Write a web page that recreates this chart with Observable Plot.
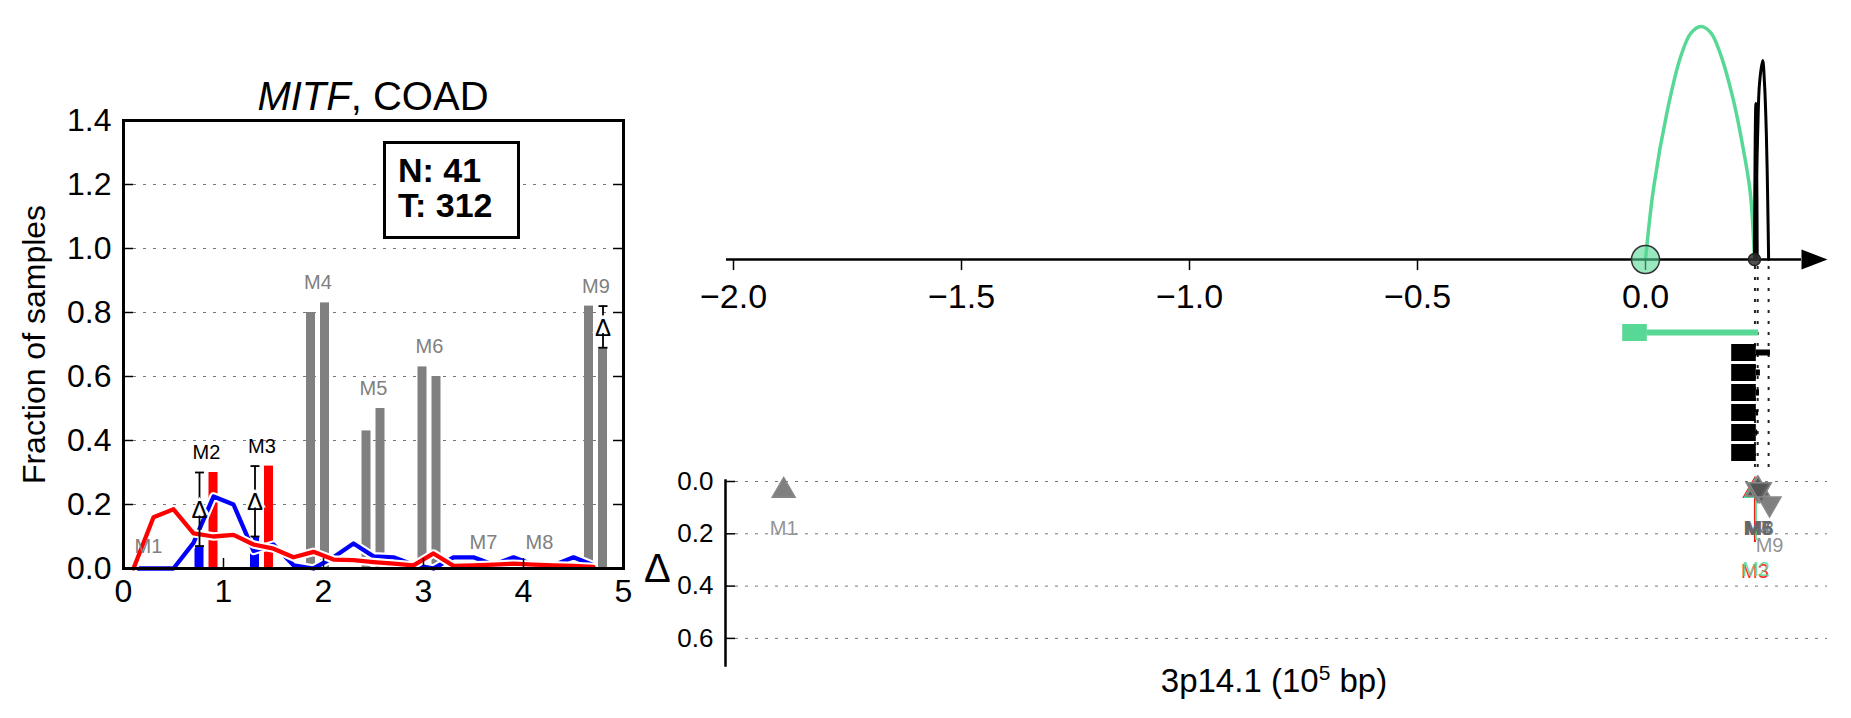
<!DOCTYPE html>
<html>
<head>
<meta charset="utf-8">
<script src="https://cdn.jsdelivr.net/npm/d3@7"></script>
<script src="https://cdn.jsdelivr.net/npm/@observablehq/plot@0.6"></script>
<style>
  body { margin: 0; background: #fff; font-family: "Liberation Sans", Arial, Helvetica, sans-serif; }
  #root { position: relative; width: 1851px; height: 718px; overflow: hidden; background: #fff; }
  .abs { position: absolute; }
  .abs svg { overflow: visible; }
</style>
</head>
<body>
<div id="root"></div>
<script>
// ---------------- Left panel data ----------------
const binCenters = [0.1,0.3,0.5,0.7,0.9,1.1,1.3,1.5,1.7,1.9,2.1,2.3,2.5,2.7,2.9,3.1,3.3,3.5,3.7,3.9,4.1,4.3,4.5,4.7];
const normalLine = [0,0,0,0.08,0.225,0.20,0.055,0.075,0.01,0.0,0.035,0.078,0.038,0.035,0.012,0.0,0.035,0.035,0.012,0.035,0.012,0.01,0.035,0.01];
const tumorLine  = [0,0.16,0.185,0.11,0.10,0.105,0.075,0.062,0.035,0.052,0.028,0.026,0.02,0.015,0.01,0.047,0.008,0.01,0.012,0.015,0.012,0.01,0.008,0.005];

const mNames    = ["M1","M2","M3","M4","M5","M6","M7","M8","M9"];
const mCenter   = [0.25, 0.83, 1.385, 1.945, 2.50, 3.06, 3.6, 4.16, 4.725];
const normalBar = [0.0, 0.07, 0.10, 0.80, 0.43, 0.63, 0.02, 0.015, 0.82];
const tumorBar  = [0.005, 0.30, 0.32, 0.83, 0.50, 0.60, 0.015, 0.02, 0.69];
const highlighted = ["M2","M3"];
const withDelta   = ["M2","M3","M9"];
const yTicksLeft = [0,0.2,0.4,0.6,0.8,1.0,1.2,1.4];
const xTicksLeft = [0,1,2,3,4,5];
const nCount = 41, tCount = 312;

// ---------------- Right panel data ----------------
const topTicks = [-2.0,-1.5,-1.0,-0.5,0.0];
const anchorPos = 0.0;
const loopEndPos = 0.239;
const greenArcX = [0.0,0.018,0.048,0.077,0.099,0.121,0.143,0.164,0.193,0.215,0.230,0.239];
const greenArcH = [0.0,0.31,0.64,0.87,0.97,1.0,0.974,0.884,0.682,0.468,0.283,0.0];
const blackArc1X = [0.239,0.246,0.250,0.257,0.261,0.265,0.268,0.270];
const blackArc1H = [0,0.541,0.755,0.854,0.755,0.541,0.253,0];
const blackArc2X = [0.239,0.2405,0.242,0.2435,0.245];
const blackArc2H = [0,0.5,0.67,0.5,0];

const trackIds    = ["MITF","t1","t2","t3","t4","t5","t6"];
const trackColor  = ["#57d895","black","black","black","black","black","black"];
const exonStart   = [-0.050,0.189,0.189,0.189,0.189,0.189,0.189];
const exonEnd     = [0.004,0.243,0.243,0.243,0.243,0.243,0.243];
const intronEnd   = [0.248,0.274,0.252,0.250,0.248,0.246,0.243];
const guidePos    = [0.240,0.246,0.270];

const deltaTicks  = [0.0,0.2,0.4,0.6];
const rNames      = ["M1","M3","M2","M4","M5","M6","M7","M8","M9"];
const rPos        = [-1.89,0.240,0.242,0.245,0.247,0.249,0.246,0.251,0.272];
const rMarker     = [0.035,0.035,0.035,0.03,0.03,0.03,0.03,0.03,0.085];
const rDir        = ["up","up","up","up","up","down","down","down","down"];
const rDelta      = [0.07,0.233,0.226,0.07,0.07,0.07,0.07,0.07,0.135];
const rColor      = ["#808080","#ff0000","#57d895","#666","#666","#666","#666","#666","#808080"];
const rLineShown  = ["M2","M3"];

// ---------------- helpers ----------------
const font = '"Liberation Sans", Arial, Helvetica, sans-serif';
const green = "#57d895";
const baseStyle = {background: "transparent", overflow: "visible", fontFamily: font, color: "black"};
const root = document.getElementById("root");
function place(node, left, top) {
  const d = document.createElement("div");
  d.className = "abs";
  d.style.left = left + "px"; d.style.top = top + "px";
  d.appendChild(node); root.appendChild(d); return d;
}
const capSymbol = {draw(ctx, size) { const w = Math.sqrt(size / Math.PI); ctx.moveTo(-w, 0); ctx.lineTo(w, 0); }};
const arrowSymbol = {draw(ctx) { ctx.moveTo(0, -10); ctx.lineTo(26, 0); ctx.lineTo(0, 10); ctx.closePath(); }};

// ---------------- Left plot ----------------
const barHalf = 0.045, barOffset = 0.07;
const bars = mNames.flatMap((m, i) => [
  {m, kind: "N", x1: mCenter[i] - barOffset - barHalf, x2: mCenter[i] - barOffset + barHalf, y: normalBar[i]},
  {m, kind: "T", x1: mCenter[i] + barOffset - barHalf, x2: mCenter[i] + barOffset + barHalf, y: tumorBar[i]}
]);
bars.forEach(d => d.fill = highlighted.includes(d.m) ? (d.kind === "N" ? "#0000ff" : "#ff0000") : "#808080");
const lineData = binCenters.map((x, i) => ({x, n: normalLine[i], t: tumorLine[i]}));
const errs = mNames.map((m, i) => {
  const nLow = normalBar[i] <= tumorBar[i];
  const lo = Math.min(normalBar[i], tumorBar[i]), hi = Math.max(normalBar[i], tumorBar[i]);
  return {m, x: mCenter[i] + (nLow ? -barOffset : barOffset), lo, hi, mid: (lo + hi) / 2};
}).filter(d => withDelta.includes(d.m));
const mLabels = mNames.map((m, i) => ({m, x: mCenter[i], top: Math.max(normalBar[i], tumorBar[i]),
  color: highlighted.includes(m) ? "black" : "#808080"}));

const left = Plot.plot({
  width: 640, height: 718,
  marginLeft: 123, marginRight: 17, marginTop: 120, marginBottom: 150,
  x: {domain: [0, 5], axis: null},
  y: {domain: [0, 1.4], axis: null},
  color: {type: "identity"},
  style: baseStyle,
  marks: [
    Plot.gridY([0.2,0.4,0.6,0.8,1.0,1.2], {stroke: "#777", strokeOpacity: 1, strokeDasharray: "3,7"}),
    Plot.rect(bars, {x1: "x1", x2: "x2", y1: 0, y2: "y", fill: "fill"}),
    Plot.line(lineData, {x: "x", y: "n", stroke: "white", strokeWidth: 8.5}),
    Plot.line(lineData, {x: "x", y: "n", stroke: "#0000ff", strokeWidth: 4.3}),
    Plot.line(lineData, {x: "x", y: "t", stroke: "white", strokeWidth: 8.5}),
    Plot.line(lineData, {x: "x", y: "t", stroke: "#ff0000", strokeWidth: 4.3}),
    Plot.ruleX(errs, {x: "x", y1: "lo", y2: "hi", stroke: "black", strokeWidth: 1.8}),
    Plot.dot(errs, {x: "x", y: "lo", symbol: capSymbol, r: 4.5, stroke: "black", strokeWidth: 1.8}),
    Plot.dot(errs, {x: "x", y: "hi", symbol: capSymbol, r: 4.5, stroke: "black", strokeWidth: 1.8}),
    Plot.dot(errs, {x: "x", y: "mid", symbol: "triangle", r: 8, fill: "white"}),
    Plot.text(errs, {x: "x", y: "mid", text: () => "Δ", fontSize: 24, fill: "black", dy: 1}),
    Plot.text(mLabels, {x: "x", y: "top", text: "m", fill: "color", fontSize: 20, dy: -20}),
    Plot.tickY([0.2,0.4,0.6,0.8,1.0,1.2], {y: d => d, insetRight: 490, strokeWidth: 1.5}),
    Plot.tickY([0.2,0.4,0.6,0.8,1.0,1.2], {y: d => d, insetLeft: 490, strokeWidth: 1.5}),
    Plot.tickX([1,2,3,4], {x: d => d, insetTop: 438, strokeWidth: 1.5}),
    Plot.frame({stroke: "black", strokeWidth: 3}),
    Plot.axisY({ticks: yTicksLeft, tickSize: 0, tickPadding: 12, tickFormat: d3.format(".1f"), fontSize: 32,
      label: "Fraction of samples", labelAnchor: "center", labelOffset: 101, labelArrow: "none"}),
    Plot.axisX({ticks: xTicksLeft, tickSize: 0, tickPadding: 11, tickFormat: d3.format("d"), fontSize: 32, label: null})
  ]
});
place(left, 0, 0);
// enlarge the y-axis title only
left.querySelectorAll("text").forEach(t => { if (t.textContent === "Fraction of samples") t.setAttribute("font-size", 32); });

// ---------------- Right plots ----------------
const xShared = {domain: [-2, 0], range: [93, 1005]};

const greenArc = greenArcX.map((x, i) => ({x, h: greenArcH[i]}));
const blackArcs = [
  ...blackArc1X.map((x, i) => ({arc: "a", x, h: blackArc1H[i]})),
  ...blackArc2X.map((x, i) => ({arc: "b", x, h: blackArc2H[i]}))
];

const plotA = Plot.plot({
  width: 1211, height: 320,
  marginLeft: 86, marginRight: 50, marginTop: 26, marginBottom: 61,
  x: {...xShared, axis: null},
  y: {domain: [0, 1], axis: null},
  style: baseStyle,
  marks: [
    Plot.line(greenArc, {x: "x", y: "h", stroke: green, strokeWidth: 3.5, curve: "catmull-rom"}),
    Plot.line(blackArcs, {x: "x", y: "h", z: "arc", stroke: "black", strokeWidth: 3, curve: "catmull-rom"}),
    Plot.ruleY([0], {stroke: "black", strokeWidth: 2.5}),
    Plot.axisX({anchor: "bottom", ticks: topTicks, tickSize: 11, tickPadding: 13, strokeWidth: 1.5,
      tickFormat: d3.format(".1f"), fontSize: 34, label: null}),
    Plot.dot([anchorPos], {x: d => d, y: () => 0, r: 14, fill: green, fillOpacity: 0.6, stroke: "#333", strokeWidth: 1.5}),
    Plot.dot([loopEndPos], {x: d => d, y: () => 0, r: 6, fill: "#333", fillOpacity: 0.85, stroke: "#222"}),
    Plot.dot([0], {frameAnchor: "bottom-right", symbol: arrowSymbol, fill: "black", stroke: "none"})
  ]
});
place(plotA, 640, 0);

const tracks = trackIds.map((id, i) => ({id, color: trackColor[i], exonStart: exonStart[i], exonEnd: exonEnd[i],
  intronStart: exonEnd[i], intronEnd: intronEnd[i]}));
const plotB = Plot.plot({
  width: 1211, height: 216,
  marginLeft: 0, marginRight: 0, marginTop: 4, marginBottom: 6,
  x: {...xShared, axis: null},
  y: {type: "point", domain: trackIds, range: [68, 192.5], padding: 0, axis: null},
  color: {type: "identity"},
  style: baseStyle,
  marks: [
    Plot.ruleX(guidePos, {stroke: "#222", strokeWidth: 2, strokeDasharray: "3,8"}),
    Plot.ruleY(tracks, {y: "id", x1: "intronStart", x2: "intronEnd", stroke: "color", strokeWidth: 6}),
    Plot.ruleY(tracks, {y: "id", x1: "exonStart", x2: "exonEnd", stroke: "color", strokeWidth: 17})
  ]
});
place(plotB, 640, 262);

const rData = rNames.map((m, i) => ({m, x: rPos[i], marker: rMarker[i], dir: rDir[i], delta: rDelta[i], color: rColor[i]}));
const plotC = Plot.plot({
  width: 1211, height: 278,
  marginLeft: 85, marginRight: 24, marginTop: 40, marginBottom: 53,
  x: {...xShared, axis: null},
  y: {domain: [0, 0.7], range: [41, 224.05], axis: null},
  color: {type: "identity"},
  style: baseStyle,
  marks: [
    Plot.gridY(deltaTicks, {stroke: "#777", strokeOpacity: 1, strokeDasharray: "3,7"}),
    Plot.frame({anchor: "left", stroke: "black", strokeWidth: 2.5}),
    Plot.tickY(deltaTicks, {y: d => d, insetRight: 1092, strokeWidth: 1.5}),
    Plot.axisY({ticks: deltaTicks, tickSize: 0, tickPadding: 12, tickFormat: d3.format(".1f"), fontSize: 26, label: null}),
    Plot.ruleX(rData.filter(d => rLineShown.includes(d.m)), {x: "x", y1: "marker", y2: "delta", stroke: "color", strokeWidth: 2}),
    Plot.dot(rData, {x: "x", y: "marker", symbol: "triangle", rotate: d => d.dir === "down" ? 180 : 0, r: 8.5,
      fill: "#555", fillOpacity: 0.75, stroke: d => d.m === "M2" || d.m === "M3" ? d.color : "#888", strokeWidth: 1.5}),
    Plot.text(rData, {x: "x", y: "delta", text: "m", fill: "color", fillOpacity: 0.85, fontSize: 20, dy: 29})
  ]
});
place(plotC, 640, 440);

// ---------------- HTML text overlays ----------------
const title = document.createElement("div");
title.className = "abs";
Object.assign(title.style, {left: "123px", top: "76px", width: "500px", textAlign: "center", fontSize: "40px", lineHeight: "40px", whiteSpace: "nowrap"});
title.innerHTML = "<i>MITF</i>, COAD";
root.appendChild(title);

const box = document.createElement("div");
box.className = "abs";
Object.assign(box.style, {left: "383px", top: "141px", width: "137px", height: "98px", boxSizing: "border-box",
  border: "3px solid black", background: "white", paddingLeft: "12px", paddingTop: "8.7px",
  fontSize: "34px", lineHeight: "35px", fontWeight: "bold", whiteSpace: "nowrap"});
box.innerHTML = `<div>N: ${nCount}</div><div>T: ${tCount}</div>`;
root.appendChild(box);

const dLabel = document.createElement("div");
dLabel.className = "abs";
Object.assign(dLabel.style, {left: "644px", top: "548px", fontSize: "40px", lineHeight: "40px"});
dLabel.textContent = "Δ";
root.appendChild(dLabel);

const xLabel = document.createElement("div");
xLabel.className = "abs";
Object.assign(xLabel.style, {left: "1074px", top: "664px", width: "400px", textAlign: "center", fontSize: "33px", lineHeight: "33px", whiteSpace: "nowrap"});
xLabel.innerHTML = "3p14.1 (10<sup style=\"font-size:21px;line-height:0\">5</sup> bp)";
root.appendChild(xLabel);
</script>
</body>
</html>
